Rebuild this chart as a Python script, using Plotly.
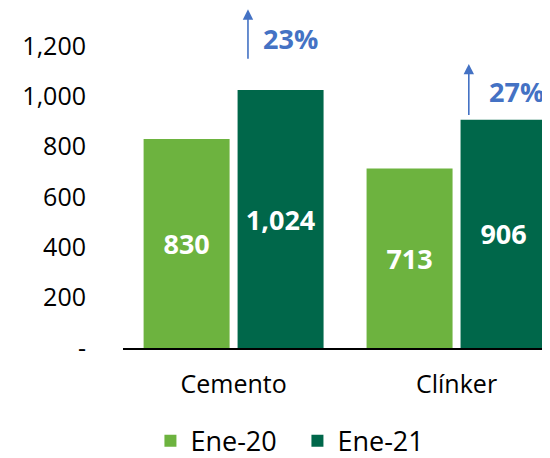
import plotly.graph_objects as go

categories = ['Cemento', 'Clínker']
ene20 = [830, 713]
ene21 = [1024, 906]
growth_labels = ['23%', '27%']
tick_vals = [0, 200, 400, 600, 800, 1000, 1200]
tick_text = ['-', '200', '400', '600', '800', '1,000', '1,200']

light_green = '#6DB33F'
dark_green = '#00674A'
blue = '#4472C4'
font = 'Open Sans'

fig = go.Figure()
fig.add_trace(go.Bar(
    x=categories, y=ene20, name='Ene-20',
    marker=dict(color=light_green, line=dict(width=0)),
    text=[f'{v:,}' for v in ene20], textposition='inside',
    insidetextanchor='middle',
    textfont=dict(color='white', size=27, family=font, weight='bold'),
))
fig.add_trace(go.Bar(
    x=categories, y=ene21, name='Ene-21',
    marker=dict(color=dark_green, line=dict(width=0)),
    text=[f'{v:,}' for v in ene21], textposition='inside',
    insidetextanchor='middle',
    textfont=dict(color='white', size=27, family=font, weight='bold'),
))

# growth arrows (decoration)
arrow_x = [0.0645, 1.055]
arrow_tail = [1143, 919]
arrow_head = [1345, 1128]
label_x = [0.255, 1.27]
label_y = [1228, 1018]
for i in range(2):
    fig.add_annotation(
        x=arrow_x[i], y=arrow_head[i], ax=arrow_x[i], ay=arrow_tail[i],
        xref='x', yref='y', axref='x', ayref='y',
        showarrow=True, arrowhead=2, arrowsize=1.3, arrowwidth=1.6,
        arrowcolor=blue, text='',
    )
    fig.add_annotation(
        x=label_x[i], y=label_y[i], xref='x', yref='y',
        text=f'<b>{growth_labels[i]}</b>', showarrow=False,
        font=dict(color=blue, size=27, family=font),
    )

fig.update_layout(
    width=550, height=458,
    margin=dict(l=115, r=0, t=0, b=105),
    paper_bgcolor='white', plot_bgcolor='white',
    barmode='group', bargap=0.157, bargroupgap=0.085,
    font=dict(family=font, size=25, color='black'),
    showlegend=True,
    legend=dict(orientation='h', x=0.401, xanchor='center', y=-0.274,
                yanchor='middle', font=dict(size=27), itemsizing='constant',
                traceorder='normal', entrywidth=102, entrywidthmode='pixels'),
    xaxis=dict(range=[-0.496, 1.455], showline=True, linecolor='black',
               linewidth=2, ticks='', ticklabelstandoff=13,
               tickfont=dict(size=25), automargin=False),
    yaxis=dict(range=[0, 1350], tickvals=tick_vals, ticktext=tick_text,
               showgrid=False, zeroline=False, ticks='',
               ticklabelstandoff=36, tickfont=dict(size=25), automargin=False),
)

fig.write_html('out.html')
